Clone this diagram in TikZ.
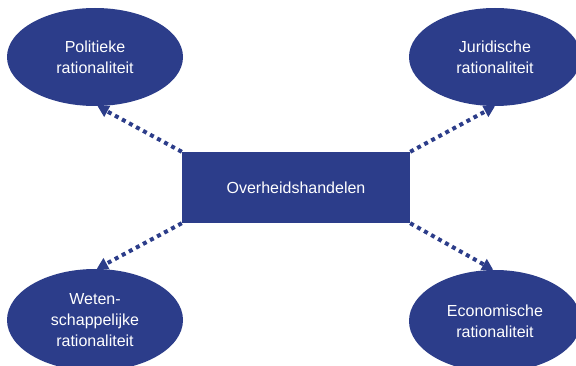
\documentclass[tikz,border=0pt]{standalone}
\usepackage{fontspec}
\setmainfont{Liberation Sans}
\usetikzlibrary{shapes.geometric,arrows.meta}
\definecolor{navy}{RGB}{44,61,138}
\begin{document}
\begin{tikzpicture}[x=1pt,y=-1pt,
  oval/.style={ellipse,fill=navy,draw=none,inner sep=0pt,text=white,align=center,
    font=\fontsize{16}{21}\selectfont},
  central/.style={rectangle,fill=navy,draw=none,inner sep=0pt,text=white,
    minimum width=228pt,minimum height=71pt,font=\fontsize{16}{21}\selectfont},
  link/.style={draw=navy,line width=4pt,dash pattern=on 4pt off 4pt,
    -{Triangle[length=11pt,width=12pt]}}]
\useasboundingbox (0,0) rectangle (576,366);
\node[central] (c) at (296,187.5) {Overheidshandelen};
\node[oval,minimum width=176pt,minimum height=98pt] (tl) at (95,57) {Politieke\\rationaliteit};
\node[oval,minimum width=172pt,minimum height=98pt] (tr) at (495,57) {Juridische\\rationaliteit};
\node[oval,minimum width=176pt,minimum height=102pt] (bl) at (95,320) {Weten-\\schappelijke\\rationaliteit};
\node[oval,minimum width=172pt,minimum height=102pt] (br) at (495,321) {Economische\\rationaliteit};
\draw[link] (c.north west) -- (tl.-87);
\draw[link] (c.north east) -- (tr.-90);
\draw[link] (c.south west) -- (bl.88);
\draw[link] (c.south east) -- (br.92);
\end{tikzpicture}
\end{document}
